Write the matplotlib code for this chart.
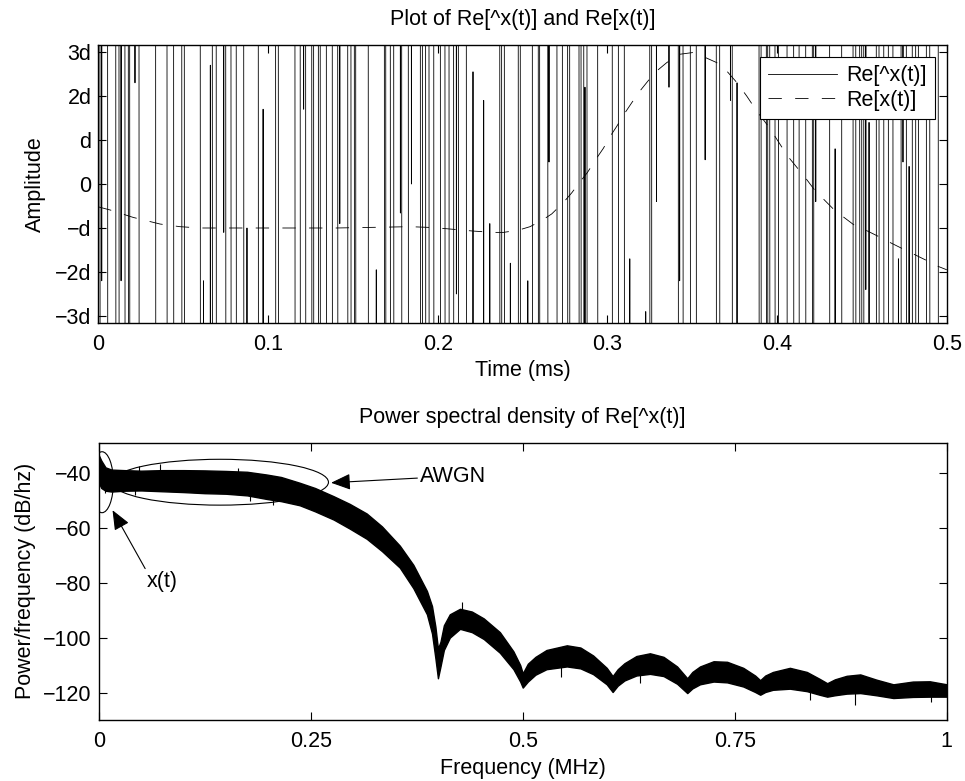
import numpy as np
import matplotlib.pyplot as plt
from matplotlib.patches import Ellipse

plt.rcParams['font.family'] = ['Liberation Sans', 'DejaVu Sans']
plt.rcParams['font.size'] = 15.5

# --- top panel: Re[^x(t)] ---
# times (ms) where the trace runs straight through the window, edge to edge
cross_t = [0.0010, 0.0055, 0.0103, 0.0122, 0.0157, 0.0177, 0.0185, 0.0240, 0.0338,
           0.0405, 0.0444, 0.0492, 0.0507, 0.0601, 0.0672, 0.0695, 0.0751, 0.0782,
           0.0813, 0.0857, 0.0943, 0.1045, 0.1061, 0.1159, 0.1190, 0.1222,
           0.1258, 0.1269, 0.1297, 0.1308, 0.1344, 0.1379, 0.1411, 0.1470, 0.1489,
           0.1509, 0.1517, 0.1591, 0.1686, 0.1694, 0.1721, 0.1741, 0.1788, 0.1827,
           0.1898, 0.1910, 0.1929, 0.1949, 0.1977, 0.2016, 0.2043, 0.2067, 0.2094,
           0.2122, 0.2169, 0.2366, 0.2377, 0.2393, 0.2475,
           0.2487, 0.2558, 0.2593, 0.2601, 0.2649, 0.2703, 0.2735, 0.2766, 0.2778,
           0.2833, 0.2845, 0.2861, 0.2880, 0.2943, 0.3029, 0.3065, 0.3100, 0.3250,
           0.3261, 0.3418, 0.3446, 0.3489, 0.3524, 0.3642, 0.3662,
           0.3736, 0.3894, 0.3906, 0.3937, 0.3945, 0.3957, 0.3988, 0.4008, 0.4059,
           0.4098, 0.4130, 0.4169, 0.4208, 0.4216, 0.4310, 0.4381, 0.4448, 0.4464,
           0.4487, 0.4499, 0.4511, 0.4585, 0.4601, 0.4629, 0.4656, 0.4683, 0.4731,
           0.4762, 0.4797, 0.4817, 0.4833, 0.4880, 0.4900, 0.4950]

# samples that land inside the window (value in units of d) and the edge they come from
spike_t = [0.0020, 0.0134, 0.0216, 0.0620, 0.0660, 0.0739, 0.0876, 0.0971, 0.1210,
           0.1423, 0.1638, 0.1780, 0.1845, 0.2110, 0.2208, 0.2271, 0.2307, 0.2428,
           0.2531, 0.2656, 0.2868, 0.3132, 0.3226, 0.3289, 0.3363, 0.3426, 0.3576,
           0.3725, 0.3764, 0.4228, 0.4342, 0.4523, 0.4542, 0.4715, 0.4742, 0.4778]
spike_side = [1, 1, 1, -1, -1, 1, -1, -1, 1,
              1, -1, 1, 1, 1, -1, -1, -1, -1,
              -1, 1, -1, -1, -1, 1, 1, 1, 1,
              1, -1, 1, -1, 1, -1, -1, 1, -1]
spike_v = [-2.2, -2.2, 2.3, -2.2, 2.7, -1.1, -1.0, 1.7, 1.7,
           -0.9, -1.95, -0.66, 0.0, -2.5, 2.55, 1.9, -0.9, -1.8,
           -2.2, 0.5, 2.2, -1.7, -2.9, -0.4, 2.2, -2.2, 0.55,
           1.9, 2.3, -0.4, 0.8, -2.4, 1.4, -1.7, 0.5, 0.4]

# Re[x(t)], units of d
x_t = [0.0, 0.0069, 0.0206, 0.0364, 0.0481, 0.06, 0.08, 0.10, 0.12, 0.14, 0.17,
       0.1837, 0.1974, 0.2092, 0.221, 0.2328, 0.2387, 0.2475, 0.2544, 0.2613,
       0.2672, 0.2741, 0.279, 0.2839, 0.2882, 0.2937, 0.2976, 0.3016, 0.3055,
       0.3104, 0.3144, 0.3193, 0.3241, 0.3291, 0.335, 0.3428, 0.3507, 0.3586,
       0.3644, 0.3703, 0.3762, 0.3821, 0.388, 0.3939, 0.3978, 0.4028, 0.4076,
       0.4165, 0.4224, 0.4332, 0.4381, 0.446, 0.4528, 0.4607, 0.4666, 0.4744,
       0.4803, 0.4882, 0.4941, 0.5]
x_v = [-0.52, -0.59, -0.76, -0.91, -0.97, -1.0, -1.0, -1.0, -1.0, -1.0, -0.98,
       -0.97, -0.99, -1.03, -1.07, -1.1, -1.1, -1.05, -0.97, -0.83,
       -0.68, -0.42, -0.2, 0.05, 0.26, 0.59, 0.81, 1.08, 1.31,
       1.62, 1.85, 2.12, 2.35, 2.57, 2.76, 2.95, 2.99, 2.86,
       2.76, 2.57, 2.31, 2.0, 1.66, 1.36, 1.14, 0.84, 0.57,
       0.15, -0.15, -0.57, -0.72, -0.95, -1.06, -1.21, -1.33, -1.48,
       -1.59, -1.74, -1.86, -1.95]

amp_ticks = [-3, -2, -1, 0, 1, 2, 3]
amp_labels = ['\u22123d', '\u22122d', '\u2212d', '0', 'd', '2d', '3d']
time_ticks = [0, 0.1, 0.2, 0.3, 0.4, 0.5]
time_labels = ['0', '0.1', '0.2', '0.3', '0.4', '0.5']

# --- bottom panel: PSD band (upper / lower edge, dB/Hz) ---
psd_f = [0.000, 0.003, 0.008, 0.015, 0.030, 0.050, 0.075, 0.100, 0.125, 0.150,
         0.175, 0.198, 0.215, 0.237, 0.255, 0.277, 0.296, 0.316, 0.334, 0.355,
         0.371, 0.387, 0.393, 0.397, 0.400, 0.403, 0.407, 0.414, 0.426, 0.440,
         0.454, 0.473, 0.489, 0.497, 0.500, 0.506, 0.515, 0.528, 0.552, 0.568,
         0.583, 0.599, 0.606, 0.612, 0.620, 0.634, 0.650, 0.666, 0.682, 0.694,
         0.700, 0.709, 0.725, 0.741, 0.760, 0.774, 0.780, 0.786, 0.795, 0.815,
         0.835, 0.850, 0.859, 0.868, 0.882, 0.898, 0.917, 0.937, 0.960, 0.980, 1.000]
psd_hi = [-33.5, -35.5, -38.0, -38.8, -39.0, -39.2, -39.0, -39.0, -39.1, -39.3,
          -39.6, -40.6, -41.5, -43.6, -45.5, -48.5, -51.3, -54.8, -59.5, -66.5,
          -73.5, -83.0, -88.5, -96.0, -104.0, -101.5, -95.5, -91.5, -89.5, -90.5,
          -93.0, -98.0, -105.0, -110.0, -113.0, -109.5, -107.0, -104.5, -102.8, -103.6,
          -106.5, -111.0, -114.0, -111.5, -109.3, -106.7, -105.7, -107.0, -110.5, -114.8,
          -112.5, -110.5, -108.6, -108.8, -111.0, -113.8, -115.5, -113.8, -112.5, -111.0,
          -112.5, -115.0, -116.6, -115.2, -113.9, -113.4, -115.3, -117.0, -116.0, -115.9, -117.0]
psd_lo = [-43.5, -45.5, -46.5, -46.8, -46.5, -46.4, -46.7, -47.0, -47.4, -47.6,
          -48.2, -49.5, -50.3, -51.8, -54.0, -57.0, -60.3, -64.0, -68.5, -74.5,
          -82.0, -91.5, -98.5, -107.5, -114.8, -110.5, -104.5, -100.0, -96.8, -98.0,
          -100.5, -105.5, -111.5, -116.0, -118.2, -116.0, -113.5, -111.5, -110.5, -111.2,
          -113.3, -117.0, -119.8, -117.5, -115.6, -113.8, -113.2, -114.0, -116.8, -120.2,
          -118.5, -117.0, -116.0, -116.3, -117.8, -119.8, -120.8, -119.8, -119.0, -118.6,
          -119.5, -120.8, -121.5, -121.0, -120.4, -120.2, -121.0, -122.0, -121.6, -121.5, -121.5]

# a few single bins that stick out of the band: frequency, base inside band, tip
out_f = [0.0074, 0.043, 0.178, 0.206, 0.047, 0.072, 0.164, 0.428, 0.545,
         0.638, 0.839, 0.892, 0.982]
out_base = [-44, -44, -46, -47, -42, -42, -42, -92, -106,
            -112, -118, -118, -119]
out_tip = [-47.5, -48.1, -50.2, -51.7, -37.6, -36.6, -38.4, -86.9, -114.5,
           -116.5, -122.7, -124.5, -123.3]

freq_ticks = [0, 0.25, 0.5, 0.75, 1]
freq_labels = ['0', '0.25', '0.5', '0.75', '1']
psd_ticks = [-120, -100, -80, -60, -40]

fig = plt.figure(figsize=(9.65, 7.81), dpi=100)
ax1 = fig.add_axes([0.1019, 0.5864, 0.8792, 0.356])
ax2 = fig.add_axes([0.1023, 0.0781, 0.8788, 0.3551])

# build the clipped trace: each event is its own piece, split by NaN
H = 40.0
dt = 0.0004
tt, vv = [], []
for t in cross_t:
    tt += [t - dt, t + dt, np.nan]
    vv += [H, -H, np.nan]
for t, s, v in zip(spike_t, spike_side, spike_v):
    tt += [t - dt, t, t + dt, np.nan]
    vv += [s * H, v, s * H, np.nan]

ax1.plot(tt, vv, color='k', lw=0.6, label='Re[^x(t)]')
ax1.plot(x_t, x_v, color='k', lw=0.6, dashes=(16, 16), label='Re[x(t)]')
ax1.set_xlim(0, 0.5)
ax1.set_ylim(-3.16, 3.16)
ax1.set_xticks(time_ticks)
ax1.set_xticklabels(time_labels)
ax1.set_yticks(amp_ticks)
ax1.set_yticklabels(amp_labels)
ax1.set_title('Plot of Re[^x(t)] and Re[x(t)]', pad=14.4, fontsize=15.5)
ax1.set_xlabel('Time (ms)')
ax1.set_ylabel('Amplitude')
ax1.xaxis.set_label_coords(0.5, -0.133)
ax1.yaxis.set_label_coords(-0.062, 0.5)
leg = ax1.legend(loc='upper right', fancybox=False, edgecolor='k', framealpha=1,
                 handlelength=3.2, handletextpad=0.4, borderpad=0.4,
                 labelspacing=0.15, borderaxespad=0.55)
leg.get_frame().set_linewidth(0.8)

ax2.fill_between(psd_f, psd_lo, psd_hi, color='k', lw=1.0)
ax2.vlines(out_f, out_base, out_tip, color='k', lw=0.8)
ax2.set_xlim(0, 1)
ax2.set_ylim(-130, -29)
ax2.set_xticks(freq_ticks)
ax2.set_xticklabels(freq_labels)
ax2.set_yticks(psd_ticks)
ax2.set_title('Power spectral density of Re[^x(t)]', pad=14.2, fontsize=15.5)
ax2.set_xlabel('Frequency (MHz)')
ax2.set_ylabel('Power/frequency (dB/hz)')
ax2.xaxis.set_label_coords(0.5, -0.137)
ax2.yaxis.set_label_coords(-0.074, 0.5)

ax2.add_patch(Ellipse((0.0039, -43.4), 0.0268, 22.2, fill=False, ec='k', lw=0.8))
ax2.add_patch(Ellipse((0.1432, -43.4), 0.2554, 16.7, fill=False, ec='k', lw=0.8))
ax2.annotate('AWGN', xy=(0.274, -43.6), xytext=(0.379, -41.2), ha='left', va='center',
             arrowprops=dict(arrowstyle='-|>,head_length=0.6,head_width=0.25',
                             mutation_scale=20, color='k', lw=0.8,
                             shrinkA=0, shrinkB=0))
ax2.annotate('x(t)', xy=(0.0163, -53.6), xytext=(0.0566, -79.7), ha='left', va='center',
             arrowprops=dict(arrowstyle='-|>,head_length=0.6,head_width=0.25',
                             mutation_scale=20, color='k', lw=0.8,
                             shrinkA=0, shrinkB=0, relpos=(0, 1)))

for ax in (ax1, ax2):
    ax.tick_params(direction='in', top=True, right=True, length=6, width=0.8)
    ax.tick_params(axis='x', pad=8)
    ax.tick_params(axis='y', pad=5)
    for sp in ax.spines.values():
        sp.set_linewidth(1.0)

fig.savefig('out.png', dpi=100)
